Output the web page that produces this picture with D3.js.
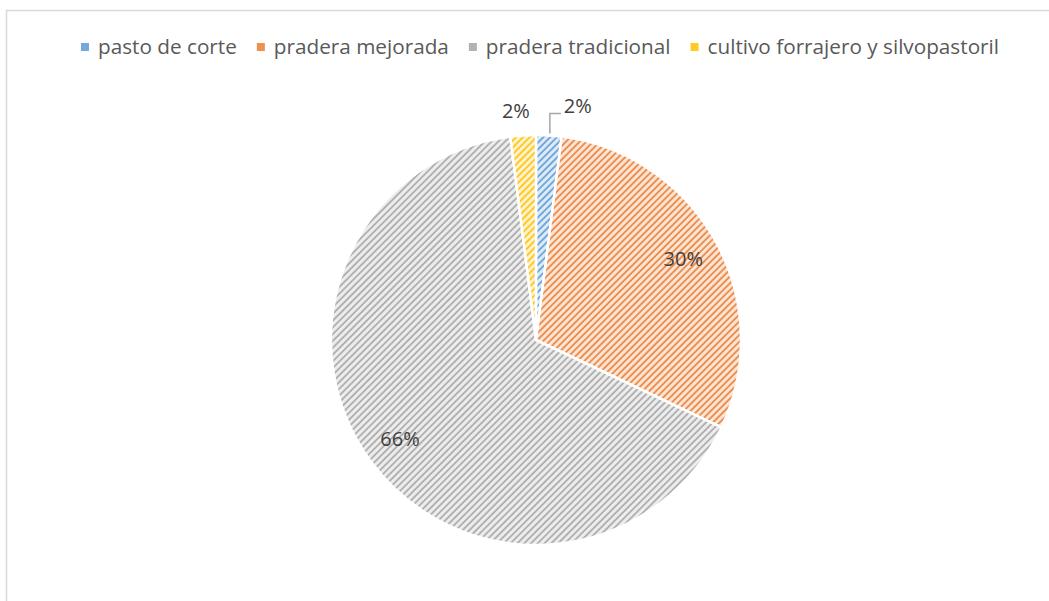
<!DOCTYPE html>
<html>
<head>
<meta charset="utf-8">
<script src="https://cdn.jsdelivr.net/npm/d3@7/dist/d3.min.js"></script>
<style>
  body { margin: 0; background: #fff; }
  svg { display: block; }
</style>
</head>
<body>
<div class="canvas"></div>
<script>
// data
const categories = ["pasto de corte", "pradera mejorada", "pradera tradicional", "cultivo forrajero y silvopastoril"];
const values = [2, 30, 66, 2];
const colors = ["#5B9BD5", "#ED7D31", "#A5A5A5", "#FFC000"];
const lightColors = ["#DEEBF7", "#FBE5D6", "#EDEDED", "#FFF2CC"];

const W = 1049, H = 601;
const FONT = "'Open Sans', sans-serif";

const svg = d3.select(".canvas")
  .append("svg")
    .attr("width", W)
    .attr("height", H);

// chart border (only left and top edges are visible)
svg.append("path")
  .attr("d", `M6.5,${H} L6.5,10.5 L${W},10.5`)
  .attr("fill", "none")
  .attr("stroke", "#d9d9d9")
  .attr("stroke-width", 1.5);

// hatch patterns - wide upward diagonal
const defs = svg.append("defs");
categories.forEach((c, i) => {
  const p = defs.append("pattern")
    .attr("id", "hatch" + i)
    .attr("patternUnits", "userSpaceOnUse")
    .attr("width", 4.8)
    .attr("height", 4.8)
    .attr("patternTransform", "rotate(45)");
  p.append("rect")
    .attr("width", 4.8).attr("height", 4.8)
    .attr("fill", lightColors[i]);
  p.append("line")
    .attr("x1", 1).attr("y1", 0)
    .attr("x2", 1).attr("y2", 4.8)
    .attr("stroke", colors[i])
    .attr("stroke-width", 1.6);
});

// PIE
const cx = 536, cy = 340, r = 205;

const pie = d3.pie()
  .value(d => d)
  .sort(null);

const arcs = pie(values);

const arc = d3.arc()
  .innerRadius(0)
  .outerRadius(r);

const graph = svg.append("g")
  .attr("transform", `translate(${cx}, ${cy})`);

graph.selectAll("path.slice")
  .data(arcs)
  .enter()
    .append("path")
    .attr("class", "slice")
    .attr("d", arc)
    .attr("fill", (d, i) => `url(#hatch${i})`)
    .attr("stroke", "white")
    .attr("stroke-width", 2.5)
    .attr("stroke-linejoin", "round");

// DATA LABELS
const total = d3.sum(values);
const pct = v => Math.round(v / total * 100) + "%";
const labelFont = 20;

// inside labels for the big slices
const inner = d3.arc().innerRadius(r * 0.82).outerRadius(r * 0.82);
graph.selectAll("text.inlabel")
  .data(arcs.filter(d => d.data > 10))
  .enter()
    .append("text")
    .attr("class", "inlabel")
    .attr("transform", d => `translate(${inner.centroid(d)})`)
    .attr("text-anchor", "middle")
    .attr("dy", "0.35em")
    .attr("fill", "#404040")
    .style("font-family", FONT)
    .style("font-size", labelFont + "px")
    .text(d => pct(d.data));

// small slices - outside labels
const outer = d3.arc().innerRadius(r + 20).outerRadius(r + 20);
// blue slice: leader line then label to the right
const a0 = arcs[0];
const edge = d3.arc().innerRadius(r).outerRadius(r).centroid(a0);
graph.append("path")
  .attr("d", `M${edge[0] + 1},${edge[1] - 2} L${edge[0] + 1},${edge[1] - 22} L${edge[0] + 12},${edge[1] - 22}`)
  .attr("fill", "none")
  .attr("stroke", "#a6a6a6")
  .attr("stroke-width", 1.5);
graph.append("text")
  .attr("x", edge[0] + 15)
  .attr("y", edge[1] - 29)
  .attr("dy", "0.35em")
  .attr("fill", "#404040")
  .style("font-family", FONT)
  .style("font-size", labelFont + "px")
  .text(pct(a0.data));

// yellow slice: label just above
const a3 = arcs[3];
const p3 = outer.centroid(a3);
graph.append("text")
  .attr("x", p3[0] - 6)
  .attr("y", p3[1] - 4)
  .attr("text-anchor", "middle")
  .attr("dy", "0.35em")
  .attr("fill", "#404040")
  .style("font-family", FONT)
  .style("font-size", labelFont + "px")
  .text(pct(a3.data));

// LEGEND
const legend = svg.append("g");
const legendY = 47;
const items = legend.selectAll("g")
  .data(categories)
  .enter()
    .append("g");

items.append("rect")
  .attr("width", 8).attr("height", 8)
  .attr("y", legendY - 4)
  .attr("fill", (d, i) => colors[i])
  .attr("opacity", 0.85);

const legendText = items.append("text")
  .attr("x", 17)
  .attr("y", legendY)
  .attr("dy", "0.35em")
  .attr("fill", "#595959")
  .style("font-family", FONT)
  .style("font-size", "18px")
  .text(d => d);

// scale the font so the first entry is as wide as in the picture
const w0 = legendText.node().getComputedTextLength();
legendText.style("font-size", (18 * 139 / w0) + "px");

// lay the items out in a row, centred over the chart
let x = 0;
const gap = 20;
const offsets = [];
items.each(function() {
  offsets.push(x);
  x += 17 + this.querySelector("text").getComputedTextLength() + gap;
});
const totalW = x - gap;
const startX = 540 - totalW / 2;
items.attr("transform", (d, i) => `translate(${startX + offsets[i]}, 0)`);
</script>
</body>
</html>
